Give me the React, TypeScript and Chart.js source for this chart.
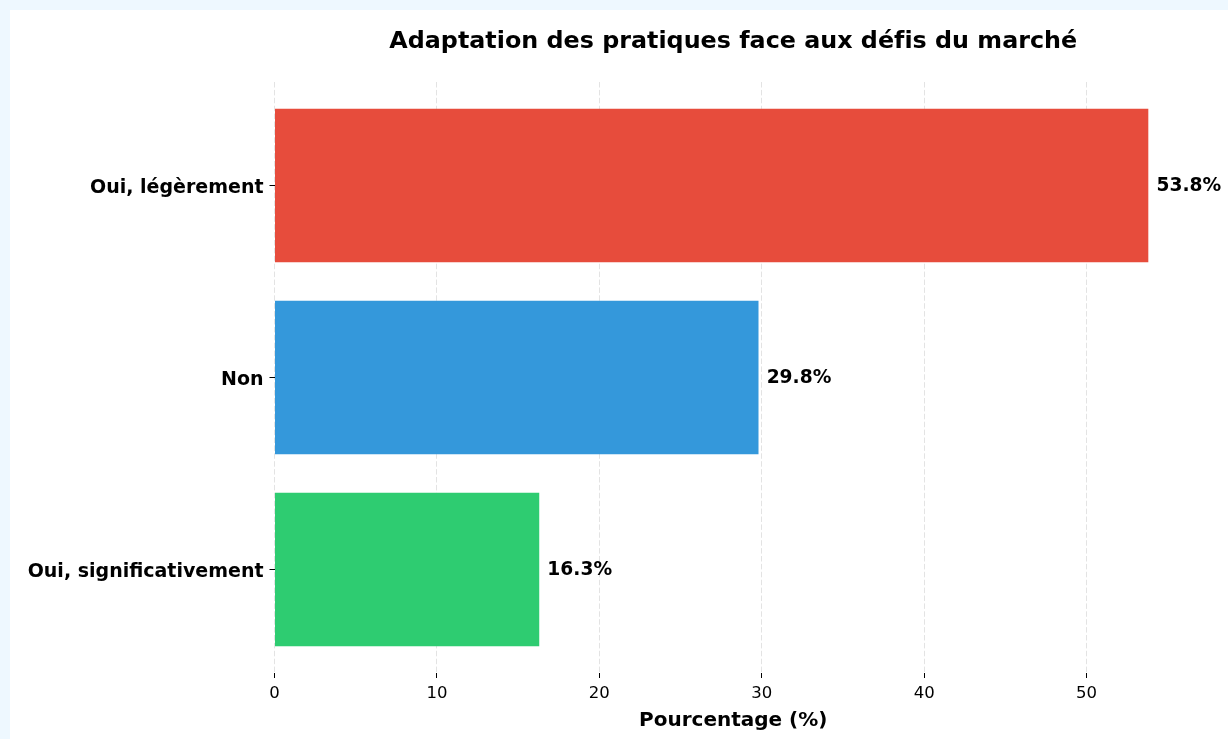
import React, { useEffect, useRef } from "react";
import { Chart, registerables } from "chart.js";

Chart.register(...registerables);

const categories = ["Oui, légèrement", "Non", "Oui, significativement"];
const values = [53.8, 29.8, 16.3];
const barColors = ["#e74c3c", "#3498db", "#2ecc71"];
const xTicks = [0, 10, 20, 30, 40, 50];
const titleText = "Adaptation des pratiques face aux défis du marché";
const xAxisLabel = "Pourcentage (%)";

const FONT = "'DejaVu Sans', sans-serif";

const titlePlugin = {
  id: "customTitle",
  afterDraw(chart: any) {
    const { ctx, chartArea } = chart;
    ctx.save();
    ctx.font = `bold 23.8px ${FONT}`;
    ctx.fillStyle = "#000";
    ctx.textAlign = "center";
    ctx.textBaseline = "alphabetic";
    try {
      (ctx as any).letterSpacing = "0.01px";
    } catch (e) {}
    ctx.fillText(titleText, (chartArea.left + chartArea.right) / 2, 37.5);
    ctx.restore();
  },
};

const valueLabelPlugin = {
  id: "valueLabels",
  afterDatasetsDraw(chart: any) {
    const { ctx } = chart;
    const meta = chart.getDatasetMeta(0);
    const xScale = chart.scales.x;
    ctx.save();
    ctx.font = `bold 18.67px ${FONT}`;
    ctx.fillStyle = "#000";
    ctx.textAlign = "left";
    ctx.textBaseline = "middle";
    meta.data.forEach((bar: any, i: number) => {
      const v = values[i];
      ctx.fillText(`${v.toFixed(1)}%`, xScale.getPixelForValue(v + 0.5), bar.y + 1);
    });
    ctx.restore();
  },
};

export default function App() {
  const canvasRef = useRef<HTMLCanvasElement>(null);

  useEffect(() => {
    document.body.style.margin = "0";
    document.body.style.background = "#eef8ff";
    document.body.style.overflow = "hidden";
    const canvas = canvasRef.current;
    if (!canvas) return;
    const chart = new Chart(canvas, {
      type: "bar",
      data: {
        datasets: [
          {
            data: values.map((v, i) => ({ x: v, y: i })),
            backgroundColor: barColors,
            borderWidth: 0,
            categoryPercentage: 0.8,
            barPercentage: 1,
          },
        ],
      },
      options: {
        indexAxis: "y",
        animation: false,
        responsive: false,
        devicePixelRatio: 1,
        layout: { padding: { top: 72, right: 36, bottom: 0, left: 0 } },
        plugins: {
          legend: { display: false },
          tooltip: { enabled: false },
          title: { display: false },
        },
        scales: {
          x: {
            type: "linear",
            position: "bottom",
            min: 0,
            max: 56.49,
            z: 1,
            afterBuildTicks: (axis: any) => {
              axis.ticks = xTicks.map((v) => ({ value: v }));
            },
            afterFit: (axis: any) => {
              axis.height = 66;
            },
            border: { display: false, dash: [5.5, 2.4] },
            grid: {
              display: true,
              drawOnChartArea: true,
              offset: false,
              color: "rgba(176,176,176,0.35)",
              lineWidth: 1,
              drawTicks: true,
              tickLength: 5,
              tickColor: "#000",
              tickWidth: 1,
              tickBorderDash: [1, 0],
            },
            ticks: {
              color: "#000",
              font: { family: FONT, size: 16.5 },
              padding: 6,
              includeBounds: false,
              callback: (v: any) => String(v),
            },
            title: {
              display: true,
              text: xAxisLabel,
              color: "#000",
              font: { family: FONT, size: 20, weight: "bold" },
              padding: { top: 0, bottom: 6 },
            },
          },
          y: {
            type: "linear",
            reverse: true,
            min: -0.54,
            max: 2.54,
            offset: false,
            afterBuildTicks: (axis: any) => {
              axis.ticks = categories.map((_, i) => ({ value: i }));
            },
            afterFit: (axis: any) => {
              axis.width = 264.5;
            },
            border: { display: false },
            grid: {
              display: true,
              offset: false,
              drawOnChartArea: false,
              drawTicks: true,
              tickLength: 5,
              tickColor: "#000",
              tickWidth: 1,
            },
            ticks: {
              color: "#000",
              font: { family: FONT, size: 19, weight: "bold" },
              padding: 6,
              labelOffset: 2.5,
              callback: (v: any) => categories[Math.round(Number(v))] ?? "",
            },
          },
        },
      },
      plugins: [titlePlugin, valueLabelPlugin],
    } as any);
    return () => chart.destroy();
  }, []);

  return (
    <div style={{ paddingLeft: 10, paddingTop: 10 }}>
      <div style={{ width: 1218, height: 729, background: "#ffffff" }}>
        <canvas ref={canvasRef} width={1218} height={729} style={{ display: "block" }} />
      </div>
    </div>
  );
}
